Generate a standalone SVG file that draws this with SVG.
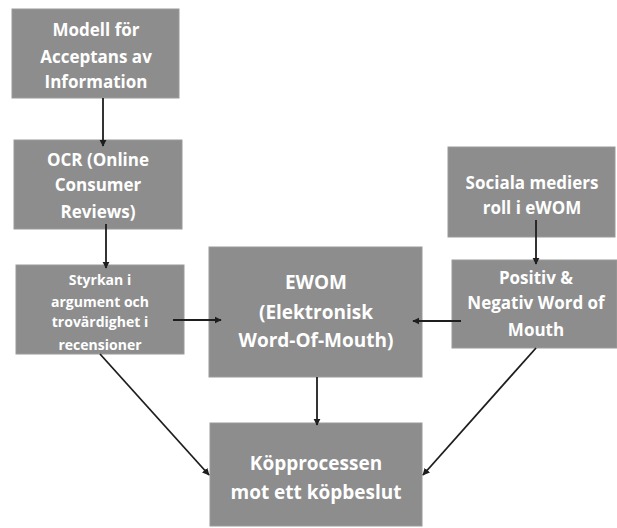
<svg xmlns="http://www.w3.org/2000/svg" width="617" height="528" viewBox="0 0 617 528">
<style>
.box{fill:#8d8d8d;stroke:#9a9a9a;stroke-width:1}
.t{font-family:"Open Sans","Liberation Sans",sans-serif;font-weight:bold;fill:#ffffff;text-anchor:middle}
.c{stroke:#1e1e1e;stroke-width:1.8;fill:none;marker-end:url(#ah)}
</style>
<defs>
<marker id="ah" viewBox="0 0 10 10" refX="9" refY="5" markerWidth="4" markerHeight="4" orient="auto" markerUnits="strokeWidth">
<path d="M0,0 L10,5 L0,10 z" fill="#1e1e1e"/>
</marker>
</defs>
<rect width="617" height="528" fill="#ffffff"/>
<g id="modell">
<rect class="box" x="12" y="9" width="167" height="89"/>
<text class="t" font-size="17"><tspan x="96" y="36">Modell för</tspan><tspan x="96" y="63">Acceptans av</tspan><tspan x="96" y="88">Information</tspan></text>
</g>
<g id="ocr">
<rect class="box" x="14" y="140" width="168" height="89"/>
<text class="t" font-size="17"><tspan x="98" y="166">OCR (Online</tspan><tspan x="98" y="191">Consumer</tspan><tspan x="98" y="218">Reviews)</tspan></text>
</g>
<g id="styrkan">
<rect class="box" x="16" y="265" width="168" height="89"/>
<text class="t" font-size="14"><tspan x="100" y="285">Styrkan i</tspan><tspan x="100" y="307">argument och</tspan><tspan x="100" y="327">trovärdighet i</tspan><tspan x="100" y="350">recensioner</tspan></text>
</g>
<g id="ewom">
<rect class="box" x="209" y="247" width="213" height="130"/>
<text class="t" font-size="19"><tspan x="316" y="289">EWOM</tspan><tspan x="316" y="319">(Elektronisk</tspan><tspan x="316" y="347">Word-Of-Mouth)</tspan></text>
</g>
<g id="sociala">
<rect class="box" x="448" y="147" width="167" height="90"/>
<text class="t" font-size="17"><tspan x="532" y="189">Sociala mediers</tspan><tspan x="532" y="214">roll i eWOM</tspan></text>
</g>
<g id="positiv">
<rect class="box" x="452" y="260" width="165" height="88"/>
<text class="t" font-size="17"><tspan x="536" y="284">Positiv &amp;</tspan><tspan x="536" y="309">Negativ Word of</tspan><tspan x="536" y="336">Mouth</tspan></text>
</g>
<g id="kop">
<rect class="box" x="210" y="423" width="212" height="103"/>
<text class="t" font-size="19"><tspan x="316" y="470">Köpprocessen</tspan><tspan x="316" y="499">mot ett köpbeslut</tspan></text>
</g>
<g id="connectors">
<line class="c" x1="103" y1="98" x2="103" y2="146"/>
<line class="c" x1="106" y1="224" x2="106" y2="268"/>
<line class="c" x1="173" y1="320" x2="221" y2="320"/>
<line class="c" x1="461" y1="321" x2="413" y2="321"/>
<line class="c" x1="536" y1="220" x2="536" y2="264"/>
<line class="c" x1="317" y1="377" x2="317" y2="425"/>
<line class="c" x1="100" y1="354" x2="209" y2="475"/>
<line class="c" x1="536" y1="348" x2="423" y2="475"/>
</g>
</svg>
